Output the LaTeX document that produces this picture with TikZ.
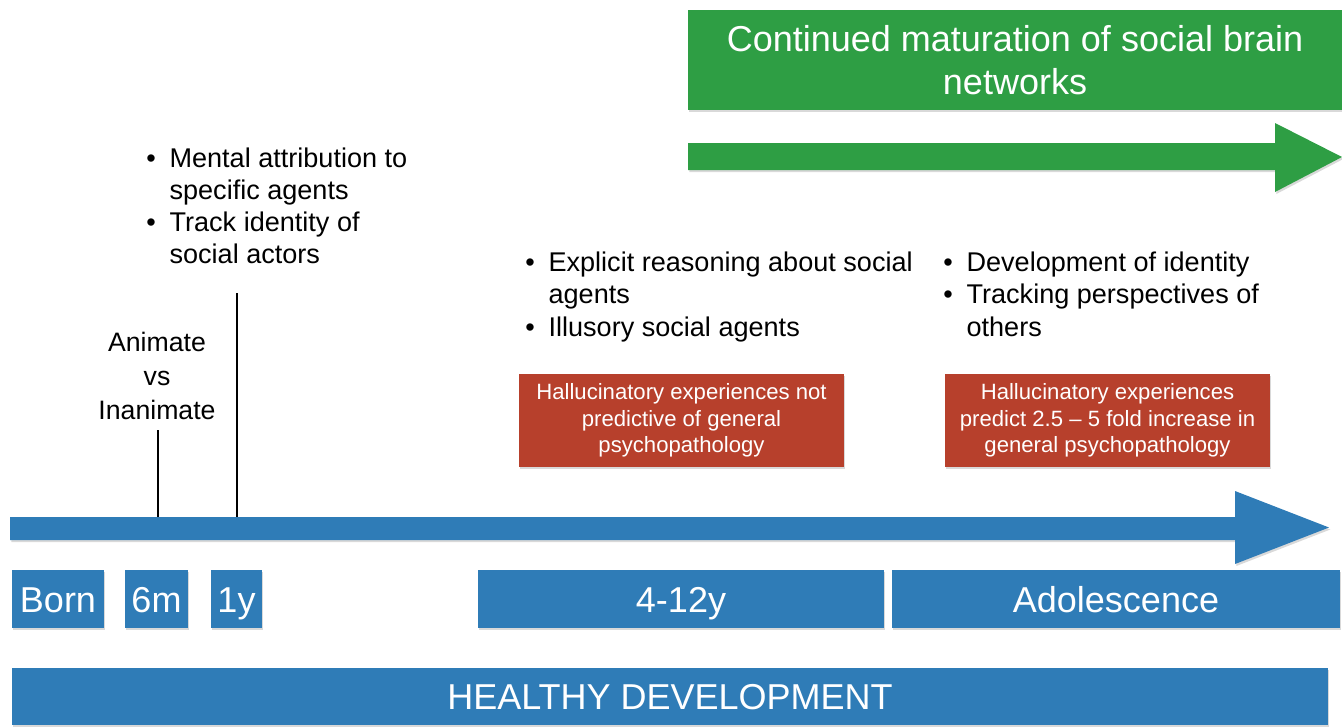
\documentclass[tikz,border=0pt]{standalone}
\usepackage{fontspec}
\setmainfont{Liberation Sans}
\usetikzlibrary{shadows}

\definecolor{devblue}{RGB}{47,124,183}
\definecolor{braingreen}{RGB}{46,158,68}
\definecolor{halred}{RGB}{183,64,44}

\newcommand{\blt}{\makebox[17.5pt][l]{\textbullet}}
\newcommand{\bltgap}{\hspace*{17.5pt}}

\begin{document}
\begin{tikzpicture}[x=0.75pt, y=-0.75pt]

\useasboundingbox (0,0) rectangle (1342,726);

%% setup styles for timeline drawing

\tikzstyle{shadowed}=[drop shadow={shadow xshift=1pt, shadow yshift=-1.5pt, opacity=0.3}]
\tikzstyle{block}=[rectangle, inner sep=0pt, text=white, align=center, shadowed]
\tikzstyle{agebox}=[block, fill=devblue, minimum height=58*0.75pt, text height=19.5pt, text depth=0pt, font=\fontsize{27}{32}\selectfont]
\tikzstyle{halbox}=[block, fill=halred, minimum width=325*0.75pt, minimum height=93*0.75pt, font=\fontsize{16.6}{20}\selectfont]
\tikzstyle{netbox}=[block, fill=braingreen, minimum width=654*0.75pt, minimum height=100*0.75pt, font=\fontsize{27}{32}\selectfont]
\tikzstyle{bulletlist}=[inner sep=0pt, anchor=base west, font=\fontsize{20.3}{24.2}\selectfont]
\tikzstyle{tick}=[black, line width=1.6pt]

%% define coordinate grid
\def \axleft {10}
\def \axtop {517}
\def \axbot {540}
\def \axhead {1235}
\def \axtip {1329}
\def \gtop {143}
\def \gbot {170}
\def \ghead {1275}
\def \yage {599}

% Draw the main time axis
\fill[devblue, shadowed] (\axleft,\axtop) -- (\axhead,\axtop) -- (\axhead,491) -- (\axtip,527.5)
  -- (\axhead,564) -- (\axhead,\axbot) -- (\axleft,\axbot) -- cycle;

% Draw the maturation arrow
\fill[braingreen, shadowed] (688,\gtop) -- (\ghead,\gtop) -- (\ghead,123) -- (1342,157)
  -- (\ghead,192) -- (\ghead,\gbot) -- (688,\gbot) -- cycle;

\node[netbox] (net) at (1015,60) {Continued maturation of social brain\\networks};

% Draw the age boxes
\foreach \name/\x/\w/\lab in {born/58/92/Born, 6m/156.5/63/6m, 1y/236.5/51/1y,
  kid/681/406/4-12y, adol/1116/448/Adolescence}{
\node[agebox, minimum width=\w*0.75pt] (age-\name) at (\x,\yage) {\lab};}

\node[agebox, minimum width=1316*0.75pt, minimum height=57*0.75pt] (healthy) at (670,696.5) {HEALTHY DEVELOPMENT};

% Draw the hallucination boxes
\node[halbox] (hal-kid) at (681.5,420.5) {Hallucinatory experiences not\\predictive of general\\psychopathology};
\node[halbox] (hal-adol) at (1107.5,420.5) {Hallucinatory experiences\\predict 2.5 -- 5 fold increase in\\general psychopathology};

% Draw the milestone texts
\node[inner sep=0pt, anchor=base, font=\fontsize{20}{25.5}\selectfont] (animate) at (157,351.5)
  {\begin{tabular}[t]{@{}c@{}}Animate\\vs\\Inanimate\end{tabular}};

\node[bulletlist] (early) at (146,167)
  {\begin{tabular}[t]{@{}l@{}}\blt Mental attribution to\\\bltgap specific agents\\\blt Track identity of\\\bltgap social actors\end{tabular}};

\node[bulletlist] (child) at (525,271.5)
  {\begin{tabular}[t]{@{}l@{}}\blt Explicit reasoning about social\\\bltgap agents\\\blt Illusory social agents\end{tabular}};

\node[bulletlist] (teen) at (943,271.5)
  {\begin{tabular}[t]{@{}l@{}}\blt Development of identity\\\blt Tracking perspectives of\\\bltgap others\end{tabular}};

%% milestone ticks
\coordinate (tick-6m) at (158,430);
\coordinate (tick-1y) at (237,293);
\coordinate (axis-top) at (0,\axtop);
\draw[tick] (tick-6m) -- (tick-6m |- axis-top);
\draw[tick] (tick-1y) -- (tick-1y |- axis-top);

\end{tikzpicture}
\end{document}
